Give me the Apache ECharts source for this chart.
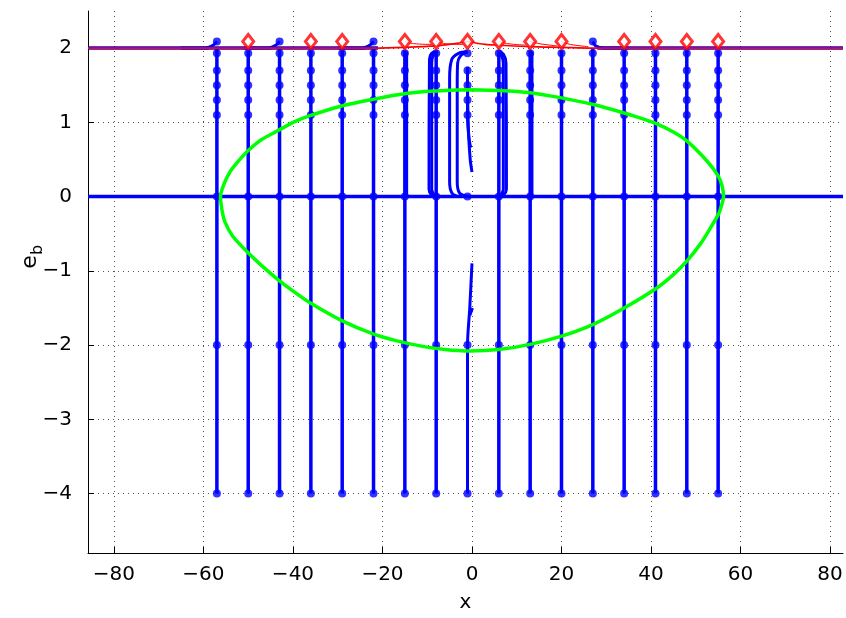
<!DOCTYPE html>
<html>
<head>
<meta charset="utf-8">
<script src="https://cdn.jsdelivr.net/npm/echarts@6/dist/echarts.min.js"></script>
<style>html,body{margin:0;padding:0;background:#fff}#c{width:846px;height:618px}</style>
</head>
<body>
<div id="c"></div>
<script>
// ---- data ----
const xTicks = [-80, -60, -40, -20, 0, 20, 40, 60, 80];
const yTicks = [-4, -3, -2, -1, 0, 1, 2];
const xStarts = [-57, -50, -43, -36, -29, -22, -15, -8, -1, 6, 13, 20, 27, 34, 41, 48, 55];
const lowDots = [-4, -2, 0];
const highDots = [1.1, 1.3, 1.5, 1.7, 1.93];
const hookLeftX = [-57, -43, -22];
const hookRightX = [27];
const diamondX = [-50, -36, -29, -15, -8, -1, 6, 13, 20, 34, 41, 48, 55];
const topY = 2.09;
const greenX = [-0.4, -6, -11.6, -17, -22.1, -29.1, -36.2, -40, -43.3, -47, -50.0, -52.3, -54.1, -55.4, -56.2, -55.9, -55.2, -53.5, -50.3, -47, -43.3, -39.8, -36.2, -29.1, -22.1, -17, -11.6, -6, -0.4, 6, 13.0, 20, 27.1, 34, 41.3, 45, 48.0, 51, 53.2, 55.2, 56.2, 55.9, 55.0, 52.5, 48.0, 45, 41.3, 37.5, 33.8, 27.1, 20.0, 13.0, 6, -0.4];
const greenY = [1.44, 1.43, 1.41, 1.37, 1.31, 1.22, 1.09, 1.0, 0.89, 0.77, 0.62, 0.47, 0.33, 0.17, 0.0, -0.17, -0.34, -0.53, -0.74, -0.93, -1.12, -1.28, -1.43, -1.67, -1.85, -1.94, -2.01, -2.06, -2.08, -2.06, -1.99, -1.88, -1.72, -1.5, -1.23, -1.05, -0.87, -0.64, -0.43, -0.22, 0.0, 0.14, 0.28, 0.48, 0.75, 0.87, 0.98, 1.06, 1.13, 1.24, 1.33, 1.40, 1.43, 1.44];
// central looping trajectories
const loopPaths = [
  [[-8, 1.95], [-9, 1.93], [-9.5, 1.85], [-9.6, 0.1], [-9, 0.02], [-8, 0]],
  [[-8, 1.95], [-8.7, 1.9], [-9, 1.8], [-9, 0.1], [-8.5, 0.02], [-8, 0]],
  [[-1, 1.95], [-3, 1.93], [-4.5, 1.85], [-5, 1.6], [-5, 0.2], [-4.5, 0.05], [-3, 0], [-1, 0]],
  [[-1, 1.95], [-2.5, 1.9], [-3.2, 1.8], [-3.3, 1.5], [-3.3, 0.2], [-2.8, 0.05], [-1, 0]],
  [[-1, 1.75], [-1, 1.1], [-0.7, 0.8], [-0.3, 0.66]],
  [[-1, 1.5], [-0.8, 0.9], [-0.4, 0.5], [0, 0.33]],
  [[-1, -4], [-1, -2], [-0.5, -1.5], [0, -0.9]],
  [[-0.5, -1.6], [0.1, -1.5]],
  [[6, 1.95], [7, 1.92], [7.6, 1.8], [7.7, 0.1], [7, 0.02], [6, 0]],
  [[6, 1.95], [6.6, 1.9], [7, 1.8], [7, 0.1], [6.5, 0.02], [6, 0]],
  [[-14.6, 0], [-14.6, 1.95]],
  [[13.4, 0], [13.4, 1.95]]
];
const blueLevelLines = [
  [[-85.8, 0], [82.9, 0]],
  [[-85.8, 2], [-21, 2]],
  [[28, 2], [82.9, 2]]
];
const redPaths = [
  [[-85.8, 2], [-22, 2], [-15, 2.01], [-8, 2.03], [-4, 2.06], [-1, 2.09]],
  [[-1, 2.09], [3, 2.05], [6, 2.04], [13, 2.02], [20, 2.01], [27, 2.0], [82.9, 2.0]],
  [[-15, 2.09], [-13, 2.06], [-9, 2.05]],
  [[-8, 2.09], [-6, 2.06], [-2, 2.05]],
  [[6, 2.09], [8, 2.06], [12, 2.04]],
  [[13, 2.09], [15, 2.06], [19, 2.03]],
  [[20, 2.09], [22, 2.05], [26, 2.02]]
];

// ---- build series ----
const BLUE = '#0000ff';
const series = [];
function lineS(pts, color, width, z, smooth) {
  series.push({type: 'line', data: pts, symbol: 'none', silent: true, z: z, smooth: smooth || false,
    lineStyle: {color: color, width: width}, itemStyle: {color: color}});
}
blueLevelLines.forEach(p => lineS(p, BLUE, 3.5, 2));
xStarts.forEach(x => {
  if (x !== -1) {
    lineS([[x, -4], [x, 0]], BLUE, 3.5, 2);
    const top = (hookLeftX.includes(x) || hookRightX.includes(x)) ? 2.0 : 1.97;
    lineS([[x, 0], [x, top]], BLUE, 3.5, 2);
  }
});
loopPaths.forEach(p => lineS(p, BLUE, 3, 2, 0.3));
hookLeftX.forEach(x => lineS([[x, topY], [x - 0.8, 2.04], [x - 2.5, 2.0], [x - 8, 2.0]], BLUE, 3, 2, 0.3));
hookRightX.forEach(x => lineS([[x, topY], [x + 0.6, 2.03], [x + 2.5, 2.0], [x + 8, 2.0]], BLUE, 3, 2, 0.3));

const dots = [];
xStarts.forEach(x => {
  lowDots.forEach(y => dots.push([x, y]));
  highDots.forEach(y => dots.push([x, y]));
});
hookLeftX.concat(hookRightX).forEach(x => dots.push([x, topY]));
series.push({type: 'scatter', data: dots, symbol: 'circle', symbolSize: 8, silent: true, z: 3,
  itemStyle: {color: BLUE}});

lineS(greenX.map((x, i) => [x, greenY[i]]), '#00ff00', 3.5, 4, 0.2);
lineS(redPaths[0], '#ff0000', 1.6, 5, 0.3);
lineS(redPaths[1], '#ff0000', 1.6, 5, 0.3);
redPaths.slice(2).forEach(p => lineS(p, '#ff0000', 1, 5, 0.4));
series.push({type: 'scatter', data: diamondX.map(x => [x, topY]), symbol: 'diamond', symbolSize: [11, 14],
  silent: true, z: 6, itemStyle: {color: '#ffffff', borderColor: '#ff0000', borderWidth: 3}});

const fmt = v => (v < 0 ? '\u2212' + Math.abs(v) : String(v));
const gridLine = {show: true, lineStyle: {color: '#555', width: 1, type: [1, 4]}};
const FONT = 'DejaVu Sans';

const chart = echarts.init(document.getElementById('c'), null, {renderer: 'canvas'});
chart.setOption({
  animation: false,
  backgroundColor: '#ffffff',
  grid: {left: 88, right: 3, top: 11, bottom: 61, containLabel: false},
  xAxis: {
    type: 'value', min: -85.8, max: 82.9,
    name: 'x', nameLocation: 'middle', nameGap: 40,
    nameTextStyle: {fontFamily: FONT, fontSize: 20, color: '#000'},
    axisLine: {show: true, onZero: false, lineStyle: {color: '#000', width: 1}},
    axisTick: {show: true, inside: true, length: 6, customValues: xTicks, lineStyle: {color: '#000'}},
    axisLabel: {customValues: xTicks, formatter: fmt, margin: 12, fontFamily: FONT, fontSize: 20, color: '#000'},
    splitLine: gridLine
  },
  yAxis: {
    type: 'value', min: -4.8, max: 2.5,
    axisLine: {show: true, onZero: false, lineStyle: {color: '#000', width: 1}},
    axisTick: {show: true, inside: true, length: 6, customValues: yTicks, lineStyle: {color: '#000'}},
    axisLabel: {customValues: yTicks, formatter: fmt, margin: 16, fontFamily: FONT, fontSize: 20, color: '#000'},
    splitLine: gridLine
  },
  graphic: [{
    type: 'group', x: 30, y: 262, rotation: Math.PI / 2,
    children: [
      {type: 'text', x: 0, y: 0, style: {text: 'e', fontFamily: FONT, fontSize: 22, fill: '#000', align: 'center', verticalAlign: 'middle'}},
      {type: 'text', x: 12, y: 8, style: {text: 'b', fontFamily: FONT, fontSize: 16, fill: '#000', align: 'center', verticalAlign: 'middle'}}
    ]
  }],
  series: series
});
</script>
</body>
</html>
